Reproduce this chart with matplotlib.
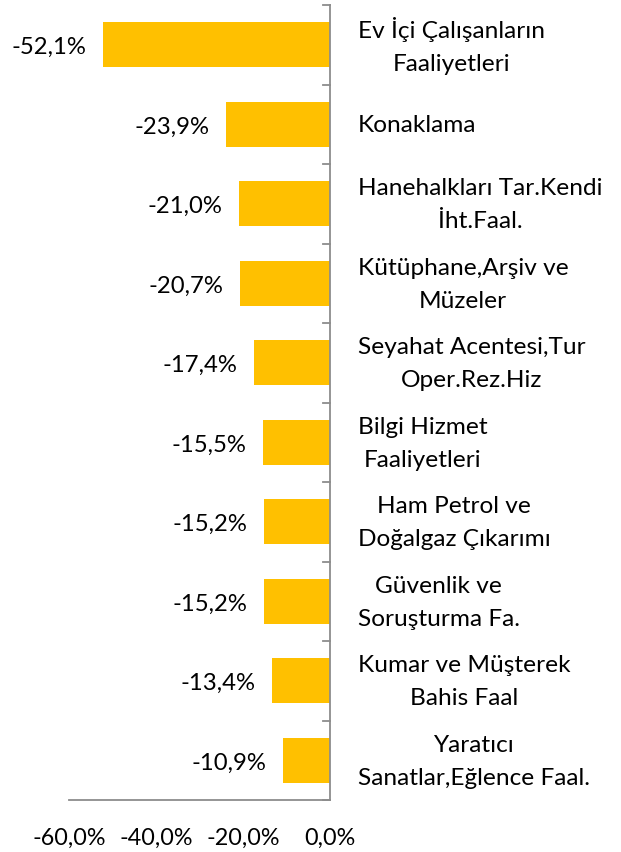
import matplotlib.pyplot as plt
import matplotlib.ticker as mticker

# veri
categories = [
    "Ev İçi Çalışanların\nFaaliyetleri",
    "Konaklama",
    "Hanehalkları Tar.Kendi\nİht.Faal.",
    "Kütüphane,Arşiv ve\nMüzeler",
    "Seyahat Acentesi,Tur\nOper.Rez.Hiz",
    "Bilgi Hizmet\nFaaliyetleri",
    "Ham Petrol ve\nDoğalgaz Çıkarımı",
    "Güvenlik ve\nSoruşturma Fa.",
    "Kumar ve Müşterek\nBahis Faal",
    "Yaratıcı\nSanatlar,Eğlence Faal.",
]
values = [-52.1, -23.9, -21.0, -20.7, -17.4, -15.5, -15.2, -15.2, -13.4, -10.9]
xticks = [-60, -40, -20, 0]

BAR = '#FFC000'
AXIS = '#8C8C8C'
FONT = 'Lato'

plt.rcParams['font.family'] = [FONT, 'DejaVu Sans']

fig = plt.figure(figsize=(6.21, 8.52), dpi=100)
W, H = 621, 852
ax = fig.add_axes([69 / W, 1 - 800 / H, (330 - 69) / W, (800 - 5) / H])

n = len(values)
ypos = list(range(n))
ax.barh(ypos, values, height=0.57, color=BAR)
ax.set_ylim(n - 0.5, -0.5)
ax.set_xlim(-60, 0)

# etiketler
for y, v in zip(ypos, values):
    ax.annotate(f'{v:.1f}%'.replace('.', ','), xy=(v, y), xytext=(-12, -2),
                textcoords='offset points', ha='right', va='center', fontsize=17.2)

for y, c in zip(ypos, categories):
    ax.annotate(c, xy=(0, y), xytext=(20, -1), textcoords='offset points',
                ha='left', va='center', multialignment='center', fontsize=17.6,
                linespacing=1.72, annotation_clip=False)

# eksenler
for s in ['top', 'left']:
    ax.spines[s].set_visible(False)
ax.spines['right'].set_color(AXIS)
ax.spines['bottom'].set_color(AXIS)
ax.spines['right'].set_linewidth(1.3)
ax.spines['bottom'].set_linewidth(1.3)

ax.set_yticks([])
# tick marks on left side of the zero line
for i in range(n + 1):
    ax.plot([-1.6, 0], [i - 0.5, i - 0.5], color=AXIS, lw=1.3, clip_on=False)

ax.set_xticks(xticks)
ax.xaxis.set_major_formatter(mticker.FuncFormatter(lambda v, _: f'{v:.1f}%'.replace('.', ',')))
ax.tick_params(axis='x', length=0, pad=20, labelsize=16.8)

fig.savefig('out.png', dpi=100)
